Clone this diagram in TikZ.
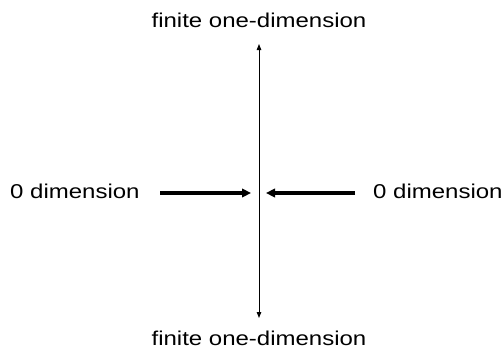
\documentclass[tikz,border=0pt]{standalone}
\usepackage{fontspec}
\setmainfont[FakeStretch=1.2]{Liberation Sans}
\usetikzlibrary{arrows.meta,positioning}
\tikzset{
  dimlabel/.style={inner sep=0pt,font=\fontsize{20bp}{24bp}\selectfont},
  axis/.style={{Triangle[length=6bp,width=4.5bp]}-{Triangle[length=6bp,width=4.5bp]},
               draw=black,line width=1bp},
  push/.style={-{Triangle[length=9bp,width=8.5bp]},draw=black,line width=3.2bp},
}
\begin{document}
\begin{tikzpicture}[x=1bp,y=-1bp]
  \useasboundingbox (0,0) rectangle (504,352);
  % labels
  \node[dimlabel,anchor=base] (top) at (259,27) {finite one-dimension};
  \node[dimlabel,anchor=base] (bot) at (259,345) {finite one-dimension};
  \node[dimlabel,anchor=base west] (lft) at (10,198) {0 dimension};
  \node[dimlabel,anchor=base west] (rgt) at (373,198) {0 dimension};
  % ends of the axis and of the two arrows
  \coordinate (up) at (259,44);
  \coordinate (down) at (259,318);
  \coordinate (lstart) at (160,193);
  \coordinate (lend) at (251,193);
  \coordinate (rstart) at (355,193);
  \coordinate (rend) at (266,193);
  \draw[axis] (up) -- (down);
  \draw[push] (lstart) -- (lend);
  \draw[push] (rstart) -- (rend);
\end{tikzpicture}
\end{document}
